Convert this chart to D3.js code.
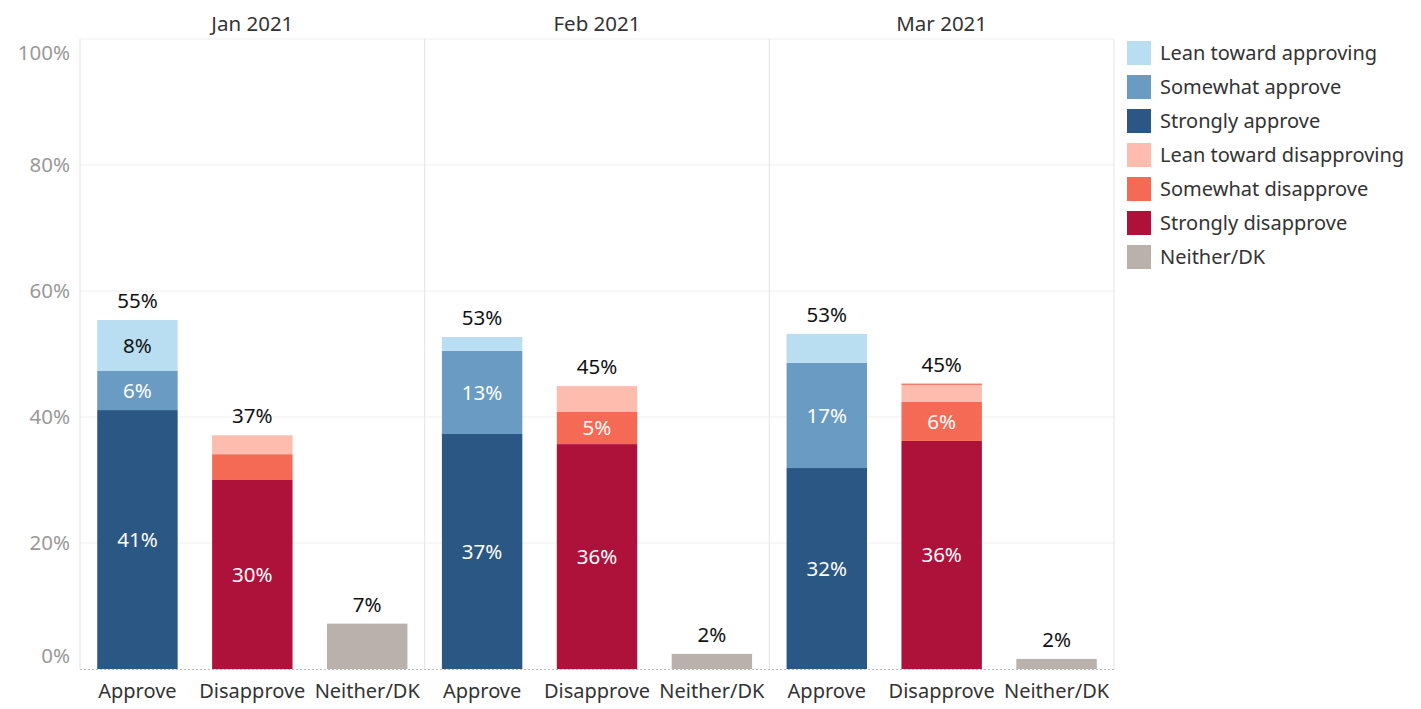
<!DOCTYPE html>
<html>
<head>
<meta charset="utf-8">
<script src="https://cdn.jsdelivr.net/npm/d3@7"></script>
<style>
  body { margin: 0; background: #fff; }
  svg text { font-family: "Noto Sans", sans-serif; }
</style>
</head>
<body>
<div id="chart"></div>
<script>
// Data
const months = ['Jan 2021', 'Feb 2021', 'Mar 2021'];
const groups = ['Approve', 'Disapprove', 'Neither/DK'];
const legendLabels = ['Lean toward approving', 'Somewhat approve', 'Strongly approve',
  'Lean toward disapproving', 'Somewhat disapprove', 'Strongly disapprove', 'Neither/DK'];
const legendColors = ['#b9ddf1', '#6a9bc3', '#2a5783', '#fdbcae', '#f46a55', '#ae123a', '#bab0ac'];

// segments bottom -> top, per month
const approveStrongly = [41.1, 37.3, 31.9];
const approveSomewhat = [6.2, 13.2, 16.7];
const approveLean = [8.1, 2.2, 4.6];
const disapproveStrongly = [30.0, 35.7, 36.2];
const disapproveSomewhat = [4.1, 5.1, 6.2];
const disapproveLean = [3.0, 4.1, 2.7];
const disapproveSliver = [0, 0, 0.2];
const neither = [7.2, 2.4, 1.6];
const yTicks = [0, 20, 40, 60, 80, 100];

const color = d3.scaleOrdinal().domain(legendLabels).range(legendColors);

// Build stacked rows
const rows = [];
months.forEach((m, i) => {
  const stacks = {
    'Approve': [['Strongly approve', approveStrongly[i]], ['Somewhat approve', approveSomewhat[i]], ['Lean toward approving', approveLean[i]]],
    'Disapprove': [['Strongly disapprove', disapproveStrongly[i]], ['Somewhat disapprove', disapproveSomewhat[i]], ['Lean toward disapproving', disapproveLean[i]], ['Somewhat disapprove', disapproveSliver[i]]],
    'Neither/DK': [['Neither/DK', neither[i]]]
  };
  groups.forEach(g => {
    let y0 = 0;
    const segs = stacks[g].map(([k, v]) => {
      const s = { key: k, value: v, y0: y0, y1: y0 + v };
      y0 += v;
      return s;
    });
    rows.push({ month: m, group: g, segs: segs, total: y0 });
  });
});

const W = 1421, H = 709;
const plot = { left: 80, right: 1114, top: 39, bottom: 669 };

const svg = d3.select('#chart').append('svg')
  .attr('width', W).attr('height', H);

const xMonth = d3.scaleBand().domain(months).range([plot.left, plot.right]);
const xGroup = d3.scaleBand().domain(groups).range([0, xMonth.bandwidth()])
  .paddingInner(0.3).paddingOuter(0.15);
const y = d3.scaleLinear().domain([0, 100]).range([plot.bottom, plot.top]);

// Gridlines
svg.append('g').selectAll('line')
  .data(yTicks.filter(d => d > 0))
  .join('line')
  .attr('x1', plot.left).attr('x2', plot.right)
  .attr('y1', d => y(d)).attr('y2', d => y(d))
  .attr('stroke', '#efefef').attr('stroke-width', 1);

// Panel borders
svg.append('g').selectAll('line')
  .data(months.map(m => xMonth(m)).concat([plot.right]))
  .join('line')
  .attr('x1', d => d).attr('x2', d => d)
  .attr('y1', plot.top).attr('y2', plot.bottom)
  .attr('stroke', '#e3e3e3').attr('stroke-width', 1);

// Y axis labels
svg.append('g').selectAll('text')
  .data(yTicks)
  .join('text')
  .attr('x', 70)
  .attr('y', d => d === 0 ? y(d) - 13 : d === 100 ? y(d) + 14 : y(d))
  .attr('dy', '0.35em')
  .attr('text-anchor', 'end')
  .attr('fill', '#999')
  .attr('font-size', 20.5)
  .text(d => d + '%');

// Month headers
svg.append('g').selectAll('text')
  .data(months)
  .join('text')
  .attr('x', d => xMonth(d) + xMonth.bandwidth() / 2)
  .attr('y', 24)
  .attr('dy', '0.35em')
  .attr('text-anchor', 'middle')
  .attr('fill', '#333')
  .attr('font-size', 20.5)
  .text(d => d);

// Bars
const barG = svg.append('g').selectAll('g')
  .data(rows)
  .join('g')
  .attr('transform', d => `translate(${xMonth(d.month) + xGroup(d.group)},0)`);

barG.selectAll('rect')
  .data(d => d.segs.filter(s => s.value > 0))
  .join('rect')
  .attr('x', 0)
  .attr('width', xGroup.bandwidth())
  .attr('y', s => y(s.y1))
  .attr('height', s => y(s.y0) - y(s.y1))
  .attr('fill', s => color(s.key));

// Segment labels
barG.selectAll('text.seg')
  .data(d => d.group === 'Neither/DK' ? [] : d.segs.filter(s => s.value >= 5))
  .join('text')
  .attr('class', 'seg')
  .attr('x', xGroup.bandwidth() / 2)
  .attr('y', s => y((s.y0 + s.y1) / 2))
  .attr('dy', '0.35em')
  .attr('text-anchor', 'middle')
  .attr('font-size', 20.5)
  .attr('fill', s => s.key === 'Lean toward approving' ? '#111' : '#fff')
  .text(s => Math.round(s.value) + '%');

// Total labels
barG.append('text')
  .attr('x', xGroup.bandwidth() / 2)
  .attr('y', d => y(d.total) - 19)
  .attr('dy', '0.35em')
  .attr('text-anchor', 'middle')
  .attr('font-size', 20.5)
  .attr('fill', '#111')
  .text(d => Math.round(d.total) + '%');

// Baseline
svg.append('line')
  .attr('x1', plot.left).attr('x2', plot.right)
  .attr('y1', plot.bottom + 0.5).attr('y2', plot.bottom + 0.5)
  .attr('stroke', '#bdbdbd').attr('stroke-dasharray', '2,2');

// X labels
svg.append('g').selectAll('text')
  .data(rows)
  .join('text')
  .attr('x', d => xMonth(d.month) + xGroup(d.group) + xGroup.bandwidth() / 2)
  .attr('y', 691)
  .attr('dy', '0.35em')
  .attr('text-anchor', 'middle')
  .attr('fill', '#333')
  .attr('font-size', 20)
  .text(d => d.group);

// Legend
const legend = svg.append('g').attr('transform', 'translate(1127,41)');
const li = legend.selectAll('g')
  .data(legendLabels)
  .join('g')
  .attr('transform', (d, i) => `translate(0,${i * 34})`);
li.append('rect')
  .attr('width', 24).attr('height', 24)
  .attr('fill', d => color(d));
li.append('text')
  .attr('x', 33).attr('y', 12)
  .attr('dy', '0.35em')
  .attr('fill', '#333')
  .attr('font-size', 20)
  .text(d => d);
</script>
</body>
</html>
